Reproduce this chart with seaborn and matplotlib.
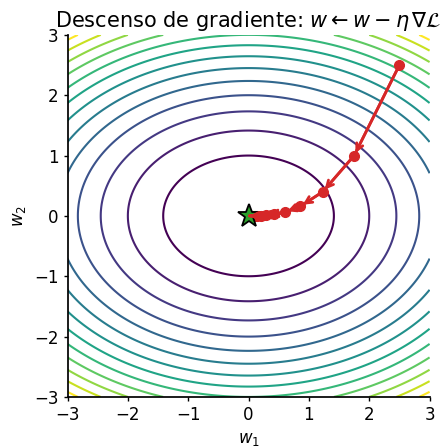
import numpy as np
import seaborn as sns
import matplotlib
matplotlib.use("Agg")
import matplotlib.pyplot as plt

# superficie de pérdida L = a*w1^2 + b*w2^2
coef_w1 = 1.0
coef_w2 = 2.0
niveles = [2, 4, 6, 8, 10, 12, 14, 16, 18, 20, 22, 24, 26]

# trayectoria
camino_w1 = [2.5, 1.75, 1.23, 0.86, 0.60, 0.42, 0.29, 0.21, 0.14, 0.10,
             0.07, 0.05, 0.03, 0.02, 0.02, 0.01]
camino_w2 = [2.5, 1.00, 0.40, 0.16, 0.06, 0.03, 0.01, 0.00, 0.00, 0.00,
             0.00, 0.00, 0.00, 0.00, 0.00, 0.00]
minimo = (0.0, 0.0)

sns.set_theme(style="ticks", rc={"text.color": "black", "axes.labelcolor": "black",
                                 "xtick.color": "black", "ytick.color": "black",
                                 "axes.edgecolor": "black"})
plt.rcParams['font.family'] = ['DejaVu Sans']

fig = plt.figure(figsize=(4.48, 4.47), dpi=100)
ax = fig.add_axes([0.1496, 0.112, 0.8104, 0.810])

g = np.linspace(-3, 3, 300)
W1, W2 = np.meshgrid(g, g)
L = coef_w1 * W1**2 + coef_w2 * W2**2
ax.contour(W1, W2, L, levels=niveles, cmap="viridis", linewidths=1.5)

ax.plot(camino_w1, camino_w2, "o-", color="#d62728", markersize=7, lw=2)
for i in range(len(camino_w1) - 1):
    ax.annotate("", xy=(camino_w1[i + 1], camino_w2[i + 1]),
                xytext=(camino_w1[i], camino_w2[i]),
                arrowprops=dict(arrowstyle="->", color="#d62728", lw=2))
ax.plot(*minimo, marker="*", color="#2ca02c", markersize=17,
        markeredgecolor="black", markeredgewidth=1.3)

ax.set_xlim(-3, 3)
ax.set_ylim(-3, 3)
ax.set_aspect("equal")
ax.set_xlabel("$w_1$", fontsize=12)
ax.set_ylabel("$w_2$", fontsize=12)
ax.set_title(r"Descenso de gradiente: $w \leftarrow w - \eta\,\nabla\mathcal{L}$", fontsize=15)
ax.tick_params(labelsize=12, length=3, width=1)
sns.despine(ax=ax)

fig.savefig("out.png", dpi=100)
